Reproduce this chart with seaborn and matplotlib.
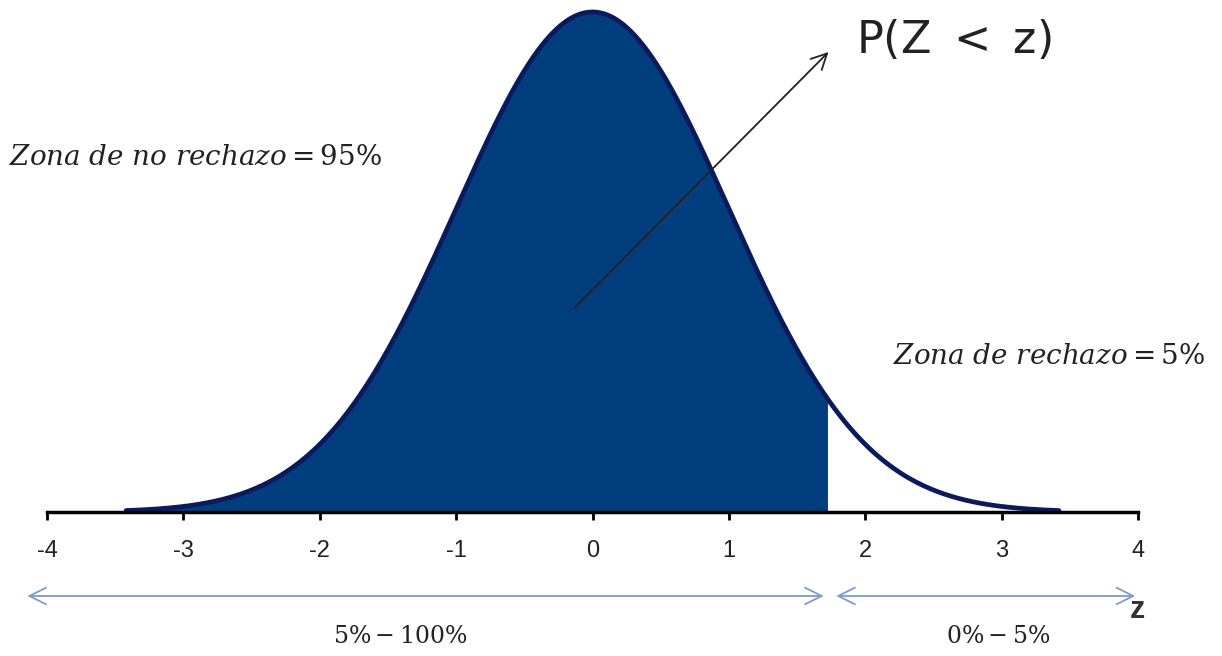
import numpy as np
import pandas as pd
import seaborn as sns
import matplotlib.pyplot as plt

# chart values
z_min, z_max = -3.42, 3.42
z_cut = 1.73
tick_values = [-4, -3, -2, -1, 0, 1, 2, 3, 4]
tick_labels = ["-4", "-3", "-2", "-1", "0", "1", "2", "3", "4"]
label_prob = r"$\mathsf{P(Z\ <\ z)}$"
label_accept = r"$Zona\ de\ no\ rechazo = 95\%$"
label_reject = r"$Zona\ de\ rechazo = 5\%$"
range_left = r"$5\% - 100\%$"
range_right = r"$0\% - 5\%$"

z = np.linspace(z_min, z_max, 400)
dens = np.exp(-z ** 2 / 2) / np.sqrt(2 * np.pi)
df = pd.DataFrame({"z": z, "density": dens})


def main():
    sns.set_theme(style="white")
    plt.rcParams["font.family"] = ["Liberation Sans", "DejaVu Sans"]
    plt.rcParams["mathtext.fontset"] = "dejavuserif"

    fig = plt.figure(figsize=(12.22, 6.56), dpi=100)
    ax = fig.add_axes([47 / 1222, 144 / 656, 1091 / 1222, 512 / 656])

    fill = df[df["z"] <= z_cut]
    ax.fill_between(fill["z"], 0, fill["density"], color="#023e7d", lw=0)
    sns.lineplot(data=df, x="z", y="density", ax=ax, color="#0a1a5c", lw=3.4)

    ax.set_xlim(-4, 4)
    ax.set_ylim(0, 0.4085)
    ax.set_xlabel("")
    ax.set_ylabel("")
    for s in ["top", "right", "left"]:
        ax.spines[s].set_visible(False)
    ax.spines["bottom"].set_color("black")
    ax.spines["bottom"].set_linewidth(2.5)
    ax.set_yticks([])
    ax.set_xticks(tick_values)
    ax.set_xticklabels(tick_labels)
    ax.tick_params(axis="x", direction="out", length=6, width=2, color="black",
                   labelsize=17, labelcolor="#222222", pad=14, bottom=True)

    # black arrow to P(Z < z)
    ax.annotate("", xy=(1.745, 0.3686), xytext=(-0.147, 0.1612),
                arrowprops=dict(arrowstyle="->", color="#222222", lw=1.3,
                                mutation_scale=28), annotation_clip=False)
    ax.text(1.93, 0.3766, label_prob, fontsize=32, color="#222222",
            va="center", ha="left")

    ax.text(-4.28, 0.2824, label_accept, fontsize=20, color="#222222",
            va="center", ha="left", clip_on=False)
    ax.text(2.207, 0.1237, label_reject, fontsize=20, color="#222222",
            va="center", ha="left", clip_on=False)

    # range arrows below the axis
    arrow_col = "#7d9cc8"
    ax.annotate("", xy=(-4.164, -0.067), xytext=(1.716, -0.067),
                arrowprops=dict(arrowstyle="<->", color=arrow_col, lw=1.3,
                                mutation_scale=30), annotation_clip=False)
    ax.annotate("", xy=(1.767, -0.067), xytext=(4.0, -0.067),
                arrowprops=dict(arrowstyle="<->", color=arrow_col, lw=1.3,
                                mutation_scale=30), annotation_clip=False)
    ax.text(3.996, -0.0782, "z", fontsize=22, fontweight="bold", color="#333333",
            ha="center", va="center", clip_on=False)
    ax.text(-1.408, -0.0997, range_left, fontsize=17, color="#222222",
            ha="center", va="center", clip_on=False)
    ax.text(2.977, -0.0997, range_right, fontsize=17, color="#222222",
            ha="center", va="center", clip_on=False)

    fig.savefig("out.png", dpi=100)


if __name__ == '__main__':
    main()
